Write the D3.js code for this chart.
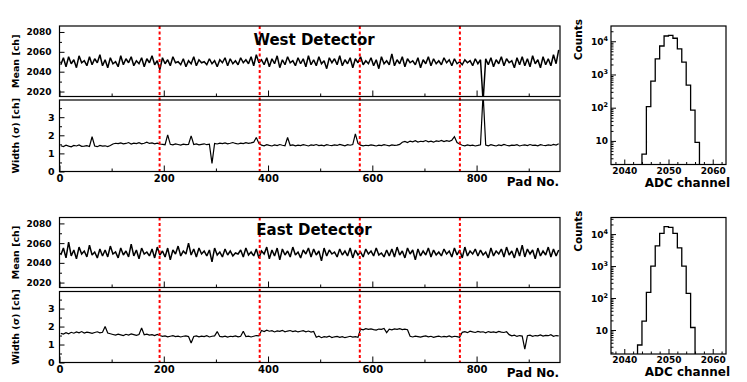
<!DOCTYPE html>
<html>
<head>
<meta charset="utf-8">
<script src="https://d3js.org/d3.v7.min.js"></script>
<title>Pad pedestals</title>
<style>
  body {margin: 0; background: white;}
  svg text {font-family: "DejaVu Sans", sans-serif; font-weight: bold; fill: black;}
</style>
</head>
<body>
<script>
// one value per 5 pads (pads 0..959)
const padStep = 5

const westMean = [
  2047,2054,2045,2055,2048,2052,2044,2056,2049,2051,2046,2055,2047,2053,2049,2057,
  2046,2052,2044,2054,2048,2050,2045,2056,2047,2053,2049,2055,2046,2051,2048,2054,
  2045,2053,2049,2056,2047,2051,2042,2054,2048,2052,2046,2055,2049,2050,2047,2053,
  2045,2051,2048,2055,2046,2052,2049,2050,2047,2053,2048,2051,2045,2052,2049,2054,
  2046,2053,2048,2051,2047,2054,2049,2052,2048,2055,2046,2057,2049,2052,2047,2054,
  2045,2053,2048,2056,2044,2052,2047,2055,2049,2051,2046,2054,2048,2053,2045,2056,
  2047,2052,2046,2055,2048,2051,2043,2054,2049,2053,2047,2056,2046,2052,2048,2054,
  2044,2053,2049,2055,2047,2051,2048,2054,2046,2052,2043,2055,2048,2051,2047,2058,
  2046,2052,2048,2055,2045,2053,2049,2051,2047,2054,2044,2052,2048,2055,2046,2053,
  2048,2051,2047,2054,2049,2052,2046,2053,2048,2050,2047,2052,2049,2051,2046,2053,
  2048,2052,2010,2053,2047,2054,2045,2052,2048,2055,2046,2053,2049,2051,2044,2054,
  2047,2055,2046,2053,2045,2056,2048,2052,2044,2055,2047,2053,2046,2057,2048,2062
]

const westWidth = [
  1.42,1.38,1.45,1.40,1.36,1.44,1.41,1.47,1.39,1.40,1.43,1.38,1.92,1.41,1.37,1.44,
  1.40,1.42,1.38,1.44,1.52,1.56,1.54,1.58,1.53,1.55,1.60,1.52,1.57,1.54,1.59,1.53,
  1.56,1.62,1.55,1.58,1.53,1.57,1.52,1.50,1.48,2.02,1.50,1.47,1.52,1.49,1.46,1.51,
  1.48,1.50,1.97,1.49,1.52,1.47,1.50,1.53,1.48,1.51,0.45,1.55,1.52,1.57,1.54,1.58,
  1.53,1.56,1.60,1.55,1.52,1.57,1.54,1.59,1.55,1.58,1.62,1.88,1.55,1.46,1.42,1.48,
  1.44,1.41,1.47,1.43,1.49,1.45,1.42,1.88,1.44,1.47,1.42,1.46,1.43,1.48,1.45,1.41,
  1.47,1.44,1.49,1.43,1.46,1.42,1.48,1.45,1.43,1.47,1.44,1.50,1.46,1.42,1.48,1.45,
  1.49,2.08,1.55,1.46,1.42,1.45,1.43,1.47,1.44,1.41,1.46,1.43,1.48,1.45,1.42,1.47,
  1.44,1.46,1.50,1.62,1.66,1.60,1.68,1.64,1.70,1.63,1.67,1.65,1.71,1.64,1.68,1.62,
  1.69,1.66,1.72,1.65,1.70,1.67,1.73,1.92,1.60,1.52,1.45,1.42,1.47,1.43,1.46,1.41,
  1.44,1.48,4.30,1.46,1.42,1.48,1.44,1.41,1.47,1.43,1.50,1.45,1.42,1.46,1.44,1.48,
  1.41,1.45,1.47,1.43,1.49,1.44,1.46,1.42,1.48,1.45,1.43,1.47,1.44,1.50,1.46,1.53
]

const eastMean = [
  2048,2055,2045,2061,2047,2053,2044,2056,2049,2052,2046,2058,2048,2051,2045,2054,
  2047,2053,2046,2057,2049,2051,2045,2055,2048,2052,2046,2059,2047,2053,2044,2055,
  2049,2051,2047,2054,2045,2056,2048,2052,2046,2055,2043,2053,2049,2057,2047,2052,
  2049,2060,2048,2054,2046,2055,2049,2052,2047,2053,2041,2055,2048,2051,2046,2054,
  2048,2052,2047,2050,2049,2053,2046,2055,2048,2051,2047,2054,2045,2052,2049,2056,
  2044,2053,2047,2055,2043,2054,2048,2052,2046,2056,2048,2051,2045,2053,2049,2055,
  2046,2054,2048,2052,2042,2055,2047,2053,2049,2051,2046,2054,2048,2052,2047,2055,
  2045,2053,2048,2051,2046,2054,2049,2052,2047,2055,2048,2050,2046,2053,2047,2054,
  2046,2056,2048,2052,2045,2055,2049,2053,2043,2054,2047,2052,2048,2055,2046,2053,
  2048,2051,2047,2054,2049,2052,2046,2055,2048,2053,2045,2056,2047,2052,2049,2054,
  2047,2053,2048,2051,2045,2055,2047,2052,2049,2054,2046,2056,2048,2052,2045,2055,
  2047,2058,2046,2054,2049,2053,2044,2055,2047,2052,2048,2056,2046,2054,2047,2053
]

const eastWidth = [
  1.62,1.58,1.66,1.60,1.68,1.63,1.70,1.65,1.72,1.64,1.69,1.66,1.62,1.67,1.71,1.65,
  1.68,2.00,1.64,1.60,1.56,1.52,1.58,1.54,1.50,1.57,1.53,1.59,1.55,1.51,1.56,1.92,
  1.54,1.58,1.52,1.55,1.50,1.56,1.50,1.45,1.48,1.43,1.46,1.49,1.44,1.47,1.42,1.46,
  1.48,1.44,1.08,1.45,1.48,1.43,1.47,1.44,1.49,1.42,1.46,1.48,1.72,1.45,1.43,1.47,
  1.41,1.46,1.44,1.48,1.43,1.46,1.74,1.44,1.47,1.42,1.46,1.50,1.48,1.78,1.72,1.80,
  1.74,1.77,1.70,1.76,1.73,1.79,1.71,1.75,1.78,1.72,1.76,1.70,1.74,1.77,1.71,1.75,
  1.69,1.73,1.40,1.46,1.38,1.44,1.41,1.47,1.39,1.43,1.45,1.40,1.44,1.38,1.42,1.46,
  1.41,1.44,1.40,1.86,1.82,1.88,1.84,1.87,1.83,1.80,1.86,1.84,1.89,1.66,1.85,1.82,
  1.87,1.84,1.88,1.83,1.86,1.82,1.46,1.42,1.47,1.44,1.41,1.45,1.48,1.43,1.46,1.40,
  1.44,1.47,1.42,1.45,1.43,1.48,1.41,1.46,1.44,1.40,1.68,1.72,1.66,1.74,1.70,1.67,
  1.73,1.69,1.71,1.65,1.72,1.68,1.70,1.66,1.73,1.69,1.67,1.71,1.55,1.48,1.52,1.45,
  1.50,1.47,0.74,1.49,1.52,1.46,1.50,1.48,1.53,1.47,1.51,1.49,1.55,1.46,1.50,1.48
]

// ADC pedestal histograms, one count per 1-channel bin starting at the first bin
const westFirstBin = 2044
const westCounts = [4, 107, 630, 2930, 7200, 14400, 15100, 12300, 5900, 2340, 480, 85, 9]
const eastFirstBin = 2043
const eastCounts = [3.4, 19, 150, 1000, 4300, 10500, 17000, 16200, 10500, 3700, 1000, 140, 12]

const sectorEdges = [192, 384, 576, 768]
const padTicks = [0, 200, 400, 600, 800]
const padMinor = [100, 300, 500, 700, 900]
const meanTicks = [2020, 2040, 2060, 2080]
const meanMinor = [2030, 2050, 2070]
const widthTicks = [0, 1, 2, 3]
const widthMinor = [0.5, 1.5, 2.5, 3.5]
const adcTicks = [2040, 2050, 2060]
const adcMinor = [2038, 2042, 2044, 2046, 2048, 2052, 2054, 2056, 2058, 2062]
const logTicks = [10, 100, 1000, 10000]

const svg = d3.select('body').append('svg').attr('width', 747).attr('height', 382)

const xPad = d3.scaleLinear().domain([0, 960]).range([59.5, 560])
const xAdc = d3.scaleLinear().domain([2037, 2063]).range([611, 726])

const rows = [
  {title: 'West Detector', mean: westMean, width: westWidth, first: westFirstBin, counts: westCounts,
   meanBox: [26, 96.5], widthBox: [100, 171.5], histBox: [26, 164.5], logDomain: [1.95, 28800], titleY: 44.5},
  {title: 'East Detector', mean: eastMean, width: eastWidth, first: eastFirstBin, counts: eastCounts,
   meanBox: [217.5, 287.5], widthBox: [291.5, 362.5], histBox: [217.5, 354], logDomain: [1.78, 33000], titleY: 235}
]

let clipCount = 0
function clipRect(x0, y0, x1, y1) {
  const id = 'clip' + (clipCount++)
  svg.append('clipPath').attr('id', id).append('rect')
    .attr('x', x0).attr('y', y0).attr('width', x1 - x0).attr('height', y1 - y0)
  return 'url(#' + id + ')'
}

// ROOT style: ticks point inwards
function axis(gen, scale, vals, size, pad, fmt, tx, ty, fs) {
  const a = gen(scale).tickValues(vals).tickSize(-size).tickPadding(pad).tickFormat(fmt || (() => ''))
  const g = svg.append('g').attr('transform', `translate(${tx},${ty})`).call(a)
  g.select('.domain').remove()
  g.attr('font-family', null).attr('font-size', fs || 9)
  g.selectAll('line').attr('stroke', '#000').attr('stroke-width', 1)
  return g
}

function frame(x0, y0, x1, y1) {
  svg.append('rect').attr('x', x0).attr('y', y0).attr('width', x1 - x0).attr('height', y1 - y0)
    .attr('fill', 'none').attr('stroke', '#000').attr('stroke-width', 1.2)
}

// pad traces: points at the centre of each 5-pad group, joined straight
function stripPath(values, y, box, sw) {
  const pts = values.map((v, i) => [i * padStep + padStep / 2, v])
  const line = d3.line().x(d => xPad(d[0])).y(d => y(d[1]))
  svg.append('path').attr('d', line(pts))
    .attr('clip-path', clipRect(59.5, box[0], 560, box[1]))
    .attr('fill', 'none').attr('stroke', '#000').attr('stroke-width', sw)
    .attr('stroke-linejoin', 'miter').attr('stroke-miterlimit', 2)
}

rows.forEach(r => {
  const yMean = d3.scaleLinear().domain([2015, 2086]).range([r.meanBox[1], r.meanBox[0]])
  const yWidth = d3.scaleLinear().domain([0, 3.95]).range([r.widthBox[1], r.widthBox[0]])

  stripPath(r.mean, yMean, r.meanBox, 1.5)
  stripPath(r.width, yWidth, r.widthBox, 1.2)

  // mean panel axes
  axis(d3.axisLeft, yMean, meanTicks, 5, 8, d3.format('d'), 59.5, 0, 9)
  axis(d3.axisLeft, yMean, meanMinor, 2.5, 0, null, 59.5, 0)
  axis(d3.axisBottom, xPad, padTicks, 6, 0, null, 0, r.meanBox[1])
  axis(d3.axisBottom, xPad, padMinor, 3, 0, null, 0, r.meanBox[1])

  // width panel axes
  axis(d3.axisLeft, yWidth, widthTicks, 5, 5, d3.format('d'), 59.5, 0, 9.5)
  axis(d3.axisLeft, yWidth, widthMinor, 2.5, 0, null, 59.5, 0)
  axis(d3.axisBottom, xPad, padTicks, 6, 3.4, d3.format('d'), 0, r.widthBox[1], 10)
  axis(d3.axisBottom, xPad, padMinor, 3, 0, null, 0, r.widthBox[1])

  sectorEdges.forEach(p => {
    svg.append('line').attr('x1', xPad(p)).attr('x2', xPad(p))
      .attr('y1', r.meanBox[0]).attr('y2', r.widthBox[1])
      .attr('stroke', '#ff0000').attr('stroke-width', 2).attr('stroke-dasharray', '3,2.5')
  })

  frame(59.5, r.meanBox[0], 560, r.meanBox[1])
  frame(59.5, r.widthBox[0], 560, r.widthBox[1])

  svg.append('text').attr('x', 314).attr('y', r.titleY).attr('text-anchor', 'middle')
    .attr('font-size', 15).text(r.title)
  svg.append('text').attr('transform', `translate(19,${(r.meanBox[0] + r.meanBox[1]) / 2}) rotate(-90)`)
    .attr('text-anchor', 'middle').attr('font-size', 9.5).text('Mean [ch]')
  svg.append('text').attr('transform', `translate(19,${(r.widthBox[0] + r.widthBox[1]) / 2}) rotate(-90)`)
    .attr('text-anchor', 'middle').attr('font-size', 9.5).text('Width (σ) [ch]')
  svg.append('text').attr('x', 559).attr('y', r.widthBox[1] + 14.5).attr('text-anchor', 'end')
    .attr('font-size', 12).text('Pad No.')

  // pedestal histogram
  const hb = r.histBox
  const yLog = d3.scaleLog().domain(r.logDomain).range([hb[1], hb[0]])
  const floor = r.logDomain[0] / 2
  const pts = [[r.first, floor]]
  r.counts.forEach((c, i) => pts.push([r.first + i, c]))
  pts.push([r.first + r.counts.length, floor])
  const hline = d3.line().x(d => xAdc(d[0])).y(d => yLog(d[1])).curve(d3.curveStepAfter)
  svg.append('path').attr('d', hline(pts)).attr('clip-path', clipRect(611, hb[0], 726, hb[1]))
    .attr('fill', 'none').attr('stroke', '#000').attr('stroke-width', 1.3)

  const minors = []
  for (let d = 1; d <= 10000; d *= 10) for (let k = 2; k <= 9; k++) {
    const v = k * d
    if (v > r.logDomain[0] && v < r.logDomain[1]) minors.push(v)
  }
  axis(d3.axisLeft, yLog, logTicks, 5, 0, null, 611, 0)
  axis(d3.axisLeft, yLog, minors, 2.5, 0, null, 611, 0)
  axis(d3.axisBottom, xAdc, adcTicks, 5, 3.1, d3.format('d'), 0, hb[1], 9)
  axis(d3.axisBottom, xAdc, adcMinor, 2.5, 0, null, 0, hb[1])

  logTicks.forEach(v => {
    const t = svg.append('text').attr('x', 608).attr('y', yLog(v) + 3.5)
      .attr('text-anchor', 'end').attr('font-size', 9)
    const e = Math.round(Math.log10(v))
    if (e === 1) t.text('10')
    else {
      t.append('tspan').text('10')
      t.append('tspan').attr('dy', -4).attr('font-size', 6.5).text(e)
    }
  })

  frame(611, hb[0], 726, hb[1])
  svg.append('text').attr('x', 730).attr('y', hb[1] + 22).attr('text-anchor', 'end')
    .attr('font-size', 12).text('ADC channel')
  svg.append('text').attr('transform', `translate(582,${hb[0] - 7}) rotate(-90)`)
    .attr('text-anchor', 'end').attr('font-size', 10.5).text('Counts')
})
</script>
</body>
</html>
